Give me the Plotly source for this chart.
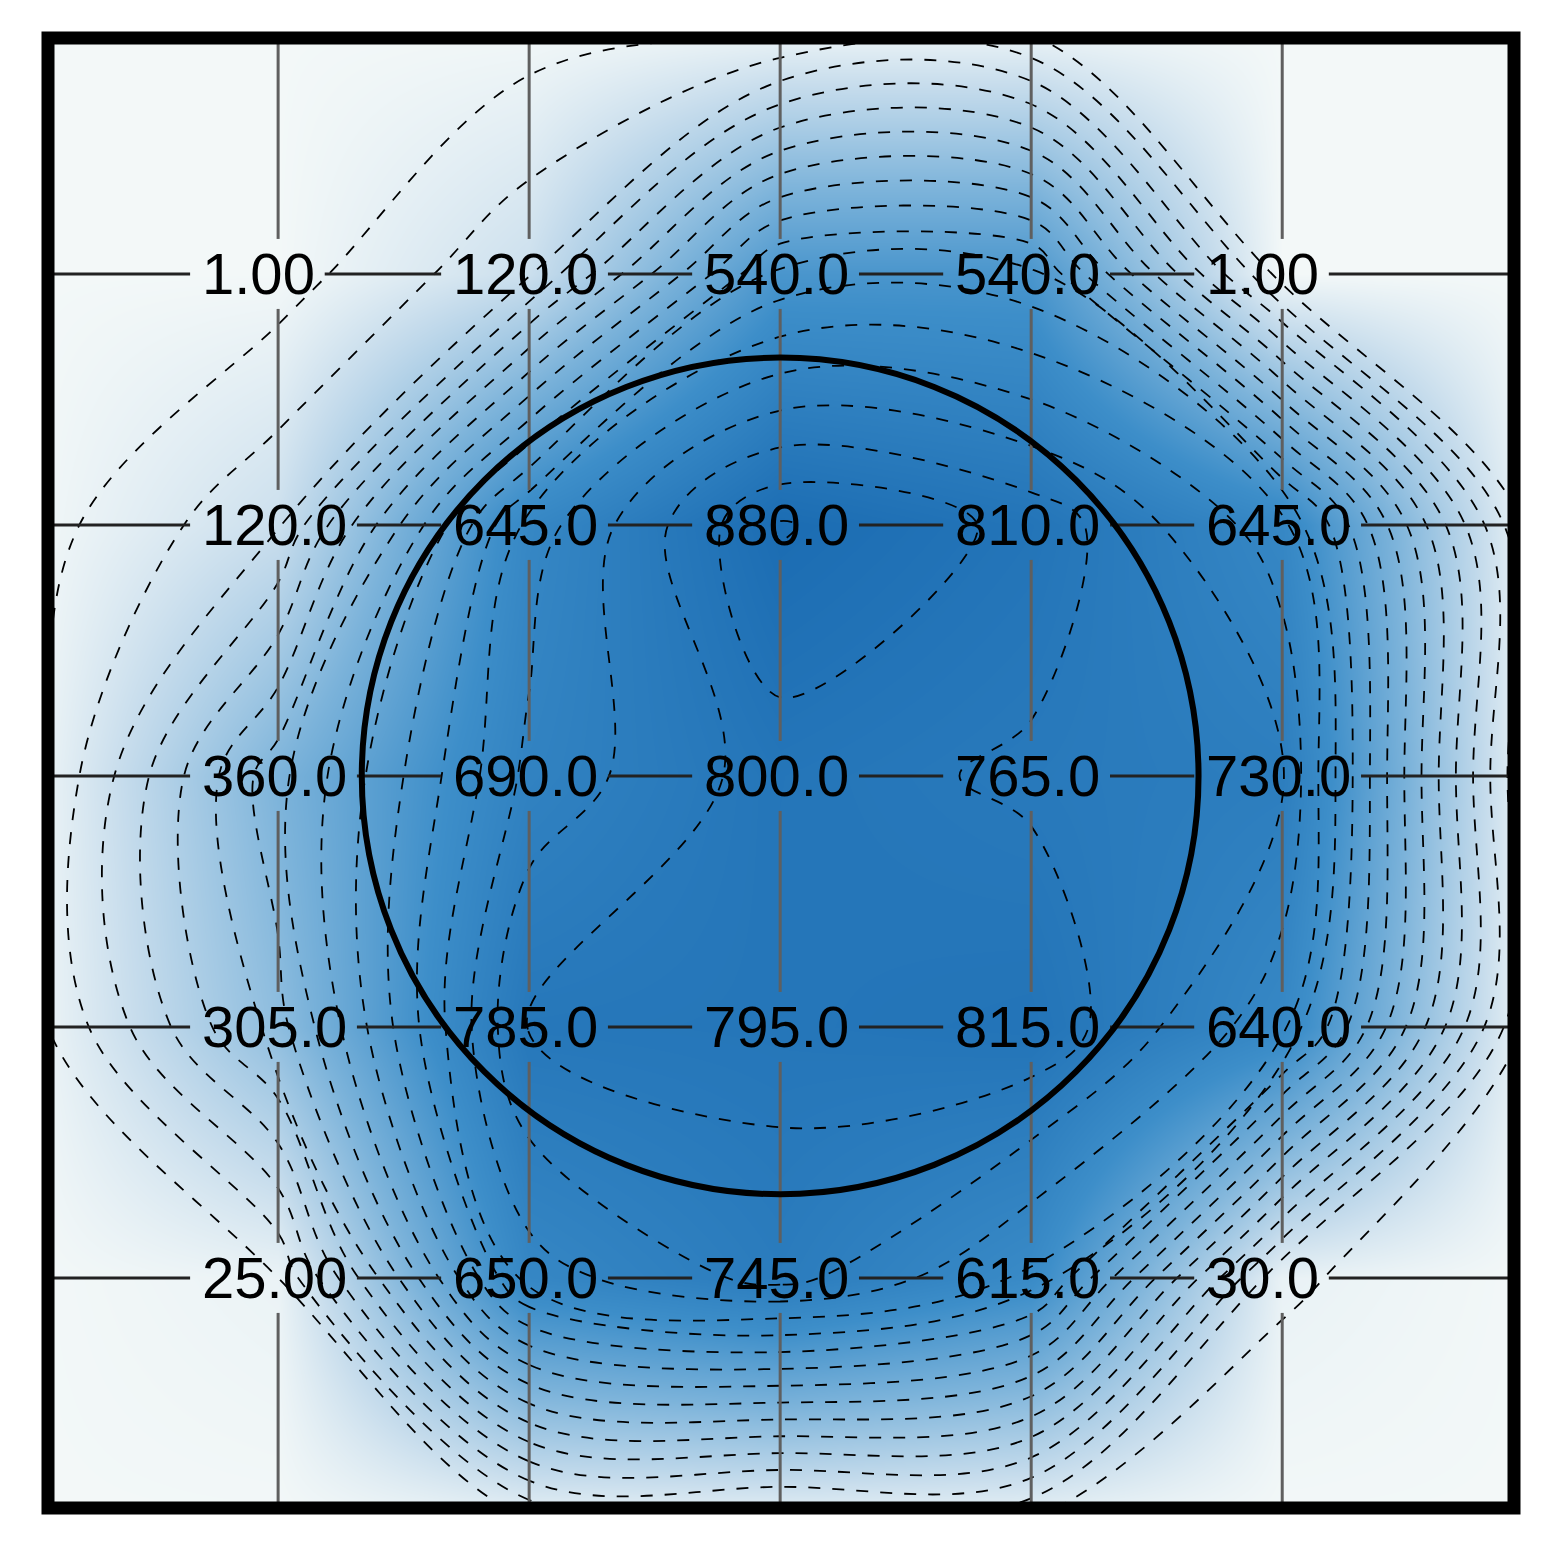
import plotly.graph_objects as go

pos_mm = [-60, -30, 0, 30, 60]
rows_top_to_bottom = [
    [1.0, 120.0, 540.0, 540.0, 1.0],
    [120.0, 645.0, 880.0, 810.0, 645.0],
    [360.0, 690.0, 800.0, 765.0, 730.0],
    [305.0, 785.0, 795.0, 815.0, 640.0],
    [25.0, 650.0, 745.0, 615.0, 30.0],
]
labels_top_to_bottom = [
    ["1.00", "120.0", "540.0", "540.0", "1.00"],
    ["120.0", "645.0", "880.0", "810.0", "645.0"],
    ["360.0", "690.0", "800.0", "765.0", "730.0"],
    ["305.0", "785.0", "795.0", "815.0", "640.0"],
    ["25.00", "650.0", "745.0", "615.0", "30.0"],
]
wafer_radius = 50
pad_mm = 90

# grille complétée par une couronne de zéros (bord de plaque)
xs = [-pad_mm] + pos_mm + [pad_mm]
ys = xs
z = [[0.0] * 7]
for r in reversed(rows_top_to_bottom):
    z.append([0.0] + r + [0.0])
z.append([0.0] * 7)

PX = 30 / 251  # mm par pixel

fig = go.Figure(
    go.Contour(
        x=xs, y=ys, z=z,
        colorscale=[
            [0.0, "#f3f8f8"],
            [0.15, "#c6dcec"],
            [0.4, "#7cb3da"],
            [0.65, "#3d8ec9"],
            [1.0, "#196ab1"],
        ],
        zmin=0, zmax=900,
        contours=dict(coloring="heatmap", start=25, end=875, size=50),
        line=dict(color="black", width=1.8, dash="12px,12px"),
        showscale=False,
        hoverinfo="skip",
    )
)

XR = [-87.5, 87.7]
YR = [-87.5, 88.2]


def text_w(s):
    return sum(16 if c == "." else 32.2 for c in s)


shapes = []
# lignes verticales (grises), coupées autour des étiquettes
for x in pos_mm:
    cuts = [(y - 35 * PX, y + 35 * PX) for y in pos_mm]
    y0 = YR[0]
    for a, b in cuts:
        shapes.append(dict(type="line", x0=x, x1=x, y0=y0, y1=a,
                           line=dict(color="#5f5f5f", width=3)))
        y0 = b
    shapes.append(dict(type="line", x0=x, x1=x, y0=y0, y1=YR[1],
                       line=dict(color="#5f5f5f", width=3)))

# lignes horizontales, coupées autour des étiquettes
for y, labs in zip(pos_mm[::-1], labels_top_to_bottom):
    x0 = XR[0]
    for x, lab in zip(pos_mm, labs):
        a = x - 88 * PX
        b = x + (-78 + text_w(lab) + 12) * PX
        shapes.append(dict(type="line", x0=x0, x1=a, y0=y, y1=y,
                           line=dict(color="#222222", width=3)))
        x0 = b
    shapes.append(dict(type="line", x0=x0, x1=XR[1], y0=y, y1=y,
                       line=dict(color="#222222", width=3)))

# contour de la plaque
shapes.append(dict(type="circle", x0=-wafer_radius, y0=-wafer_radius,
                   x1=wafer_radius, y1=wafer_radius,
                   line=dict(color="black", width=6)))
# cadre
shapes.append(dict(type="rect", xref="paper", yref="paper", x0=0, y0=0, x1=1, y1=1,
                   line=dict(color="black", width=13)))

annotations = []
for y, labs in zip(pos_mm[::-1], labels_top_to_bottom):
    for x, lab in zip(pos_mm, labs):
        annotations.append(dict(
            x=x, y=y, text=lab, showarrow=False,
            xanchor="left", yanchor="middle", xshift=-78,
            font=dict(family="Liberation Sans, Arial", size=58, color="black"),
        ))

fig.update_layout(
    width=1563, height=1563,
    margin=dict(l=40, r=57, t=30, b=63),
    paper_bgcolor="white", plot_bgcolor="white",
    shapes=shapes, annotations=annotations,
    xaxis=dict(range=XR, visible=False, showgrid=False, zeroline=False),
    yaxis=dict(range=YR, visible=False, showgrid=False, zeroline=False),
    showlegend=False,
)
fig.write_html("out.html")
